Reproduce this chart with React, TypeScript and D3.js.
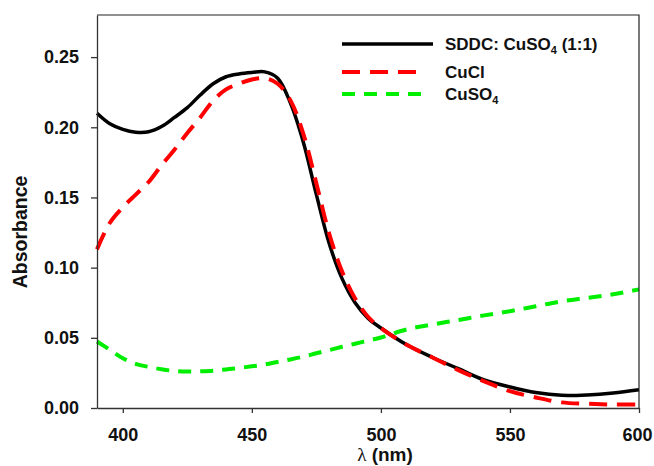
import React, { useEffect, useRef } from "react";
import * as d3 from "d3";

const width = 654;
const height = 466;
const margin = { top: 15, right: 15, bottom: 58, left: 97 };

// wavelengths (nm) and absorbance
const wavelengths = [
  390, 395, 400, 405, 410, 415, 420, 425, 430, 435, 440, 445, 450, 455, 460,
  465, 470, 475, 480, 485, 490, 495, 500, 510, 520, 530, 540, 550, 560, 570,
  580, 590, 600,
];
const sddc = [
  0.21, 0.2025, 0.1985, 0.1965, 0.1968, 0.2005, 0.207, 0.214, 0.223, 0.231,
  0.236, 0.238, 0.239, 0.2395, 0.235, 0.217, 0.189, 0.152, 0.117, 0.092, 0.075,
  0.064, 0.057, 0.045, 0.036, 0.028, 0.02, 0.015, 0.011, 0.009, 0.0093, 0.0107,
  0.013,
];
const cucl = [
  0.113, 0.132, 0.143, 0.152, 0.161, 0.173, 0.184, 0.196, 0.207, 0.219, 0.227,
  0.231, 0.234, 0.235, 0.231, 0.219, 0.195, 0.16, 0.124, 0.097, 0.078, 0.065,
  0.057, 0.045, 0.036, 0.027, 0.019, 0.012, 0.0075, 0.004, 0.003, 0.0025,
  0.0025,
];
const cuso4 = [
  0.0474, 0.0415, 0.0355, 0.0315, 0.0293, 0.0276, 0.0264, 0.026, 0.0261, 0.0265,
  0.0275, 0.0285, 0.0297, 0.031, 0.0328, 0.0346, 0.0366, 0.039, 0.0413, 0.0436,
  0.0458, 0.048, 0.0502, 0.056, 0.0595, 0.0627, 0.066, 0.069, 0.0725, 0.076,
  0.0785, 0.081, 0.0845,
];
const xTicks = [400, 450, 500, 550, 600];
const yTicks = [0, 0.05, 0.1, 0.15, 0.2, 0.25];

const font = "'Liberation Sans', Arial, sans-serif";

export default function App() {
  const ref = useRef<SVGSVGElement>(null);

  useEffect(() => {
    const svg = d3.select(ref.current);
    svg.selectAll("*").remove();

    const x = d3
      .scaleLinear()
      .domain([390, 600])
      .range([margin.left, width - margin.right]);
    const y = d3
      .scaleLinear()
      .domain([0, 0.28])
      .range([height - margin.bottom, margin.top]);

    const series = [
      { name: "sddc", values: sddc, color: "#000000", dash: null, w: 3.5 },
      { name: "cucl", values: cucl, color: "#ff0000", dash: "18,10", w: 4 },
      { name: "cuso4", values: cuso4, color: "#00ee00", dash: "13,9", w: 4 },
    ];

    const line = d3
      .line<number>()
      .x((d, i) => x(wavelengths[i]))
      .y((d) => y(d))
      .curve(d3.curveCatmullRom.alpha(0.5));

    // green first, red dashes on top of black
    const g = svg.append("g");
    [series[2], series[0], series[1]].forEach((s) => {
      g.append("path")
        .attr("d", line(s.values))
        .attr("fill", "none")
        .attr("stroke", s.color)
        .attr("stroke-width", s.w)
        .attr("stroke-dasharray", s.dash);
    });

    // frame
    svg
      .append("path")
      .attr("d", `M${x(390)},${y(0.28)}H${x(600)}V${y(0)}`)
      .attr("fill", "none")
      .attr("stroke", "#222")
      .attr("stroke-width", 1.2);

    const xAxis = svg
      .append("g")
      .attr("transform", `translate(0,${y(0)})`)
      .call(
        d3.axisBottom(x).tickValues(xTicks).tickSize(5).tickSizeOuter(0).tickPadding(15)
      );
    const yAxis = svg
      .append("g")
      .attr("transform", `translate(${x(390)},0)`)
      .call(
        d3
          .axisLeft(y)
          .tickValues(yTicks)
          .tickFormat(d3.format(".2f"))
          .tickSize(6)
          .tickSizeOuter(0)
          .tickPadding(12)
      );

    [xAxis, yAxis].forEach((a) => {
      a.selectAll("path,line").attr("stroke", "#333").attr("stroke-width", 1.3);
      a.selectAll("text")
        .attr("fill", "#111")
        .style("font-family", font)
        .style("font-weight", "bold")
        .style("font-size", "18px");
    });
    // keep the last label inside the picture
    xAxis
      .selectAll<SVGTextElement, number>("text")
      .filter((d) => d === 600)
      .attr("dx", -2);

    const xl = svg
      .append("text")
      .attr("x", 385)
      .attr("y", 461)
      .attr("text-anchor", "middle")
      .style("font-family", font)
      .style("font-weight", "bold")
      .style("font-size", "19px")
      .attr("fill", "#111");
    xl.append("tspan")
      .style("font-family", "'Liberation Serif', 'DejaVu Serif', serif")
      .style("font-weight", "normal")
      .text("λ");
    xl.append("tspan").text(" (nm)");

    svg
      .append("text")
      .attr("transform", "translate(27,232) rotate(-90)")
      .attr("text-anchor", "middle")
      .style("font-family", font)
      .style("font-weight", "bold")
      .style("font-size", "19.5px")
      .attr("fill", "#111")
      .text("Absorbance");

    // legend
    const legend = [
      { label: "SDDC: CuSO", sub: "4", tail: " (1:1)", s: series[0], ly: 44, x2: 433 },
      { label: "CuCl", sub: "", tail: "", s: series[1], ly: 72, x2: 423 },
      { label: "CuSO", sub: "4", tail: "", s: series[2], ly: 94, x2: 430 },
    ];
    legend.forEach((l) => {
      svg
        .append("line")
        .attr("x1", 342)
        .attr("x2", l.x2)
        .attr("y1", l.ly)
        .attr("y2", l.ly)
        .attr("stroke", l.s.color)
        .attr("stroke-width", l.s.w)
        .attr("stroke-dasharray", l.s.dash);
      const t = svg
        .append("text")
        .attr("x", 445)
        .attr("y", l.ly + 6)
        .style("font-family", font)
        .style("font-weight", "bold")
        .style("font-size", "17px")
        .attr("fill", "#111");
      t.append("tspan").text(l.label);
      if (l.sub) {
        t.append("tspan").attr("dy", 4).style("font-size", "11px").text(l.sub);
      }
      if (l.tail) {
        t.append("tspan").attr("dy", -4).text(l.tail);
      }
    });
  }, []);

  return (
    <svg
      ref={ref}
      width={width}
      height={height}
      style={{ position: "absolute", left: 0, top: 0, background: "#fff" }}
    />
  );
}
